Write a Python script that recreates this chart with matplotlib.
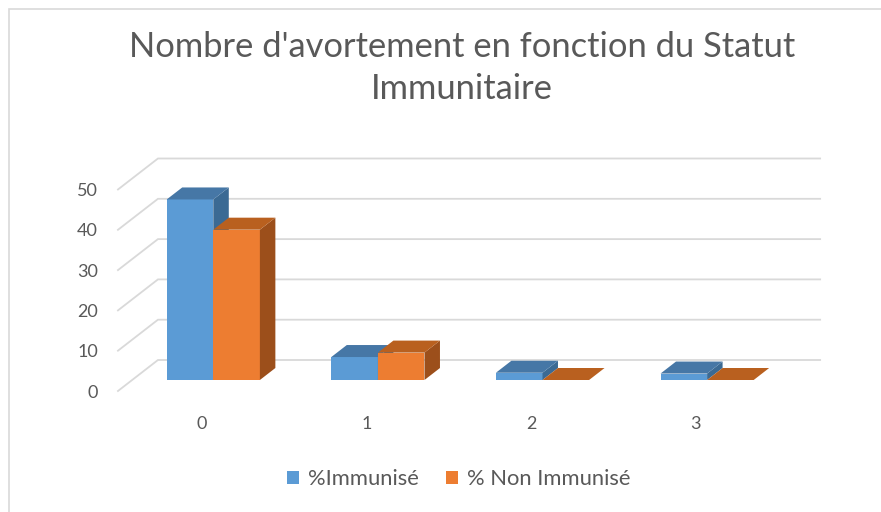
import numpy as np
import matplotlib.pyplot as plt
from matplotlib.patches import Polygon, Rectangle

# data
categories = ["0", "1", "2", "3"]
series = ["%Immunisé", "% Non Immunisé"]
immunise = [44.8, 5.7, 1.8, 1.6]
non_immunise = [37.3, 6.8, 0.0, 0.0]
yticks = [0, 10, 20, 30, 40, 50]

TEXT = "#595959"
GRID = "#D9D9D9"
front_cols = ["#5B9BD5", "#ED7D31"]
top_cols = ["#4677A6", "#B9601F"]
side_cols = ["#3B6A94", "#9C4F1B"]

# fake 3d: z is depth, one unit = 1 px of vertical shift
PX_CAT = 164.6   # px per category
PX_VAL = 4.03    # px per value unit
KX = (40 / 31) / PX_CAT
KY = 1 / PX_VAL
Z_FRONT, Z_BACK, Z_BAR = -11, 20, 12
W = 0.283
X_LEFT, X_RIGHT = -0.493, 3.53


def proj(c, v, z):
    return c + z * KX, v + z * KY


fig = plt.figure(figsize=(8.81, 5.12), dpi=100)
ax = fig.add_axes([0, 0, 1, 1])
ax.set_xlim(-213.3 / PX_CAT, (881 - 213.3) / PX_CAT)
ax.set_ylim(-(512 - 380) / PX_VAL, 380 / PX_VAL)
ax.axis("off")

# chart border
fig.patches.append(Rectangle((9 / 881, -0.1), 1.2, 1 - 9 / 512 + 0.1,
                             transform=fig.transFigure, fill=False,
                             ec="#D9D9D9", lw=1.2))

# back wall gridlines + side wall lines
for t in yticks:
    x0, y0 = proj(X_LEFT, t, Z_FRONT)
    x1, y1 = proj(X_LEFT, t, Z_BACK)
    x2, y2 = proj(X_RIGHT, t, Z_BACK)
    ax.plot([x0, x1, x2], [y0, y1, y2], color=GRID, lw=1.3,
            solid_joinstyle="miter", zorder=1)
    ax.text(x0 - 20 / PX_CAT, y0 - 0.4, str(t), ha="right", va="center",
            fontsize=13, color=TEXT, family="Lato")

x = np.arange(len(categories))
for s, vals in enumerate([immunise, non_immunise]):
    lefts = x - W + s * W
    ax.bar(lefts, vals, width=W, align="edge", color=front_cols[s],
           label=series[s], zorder=2 + s)
    for l, v in zip(lefts, vals):
        top = [proj(l, v, 0), proj(l + W, v, 0),
               proj(l + W, v, Z_BAR), proj(l, v, Z_BAR)]
        side = [proj(l + W, 0, 0), proj(l + W, v, 0),
                proj(l + W, v, Z_BAR), proj(l + W, 0, Z_BAR)]
        ax.add_patch(Polygon(side, closed=True, fc=side_cols[s], ec="none",
                             zorder=2 + s))
        ax.add_patch(Polygon(top, closed=True, fc=top_cols[s], ec="none",
                             zorder=2 + s))

for i, c in enumerate(categories):
    cx, cy = proj(i, 0, Z_FRONT)
    ax.text(cx + 3 / PX_CAT, -11.0, c, ha="center", va="center",
            fontsize=13, color=TEXT, family="Lato")

fig.text(462 / 881, 1 - 68 / 512,
         "Nombre d'avortement en fonction du Statut\nImmunitaire",
         ha="center", va="center", fontsize=24.8, color=TEXT, family="Lato",
         linespacing=1.36)

fig.legend(loc="center", bbox_to_anchor=(459 / 881, 1 - 479 / 512), ncol=2,
           frameon=False, handlelength=0.55, handleheight=0.55,
           handletextpad=0.4, columnspacing=1.25,
           prop={"family": "Lato", "size": 15.8}, labelcolor=TEXT)

fig.savefig("out.png", dpi=100)
